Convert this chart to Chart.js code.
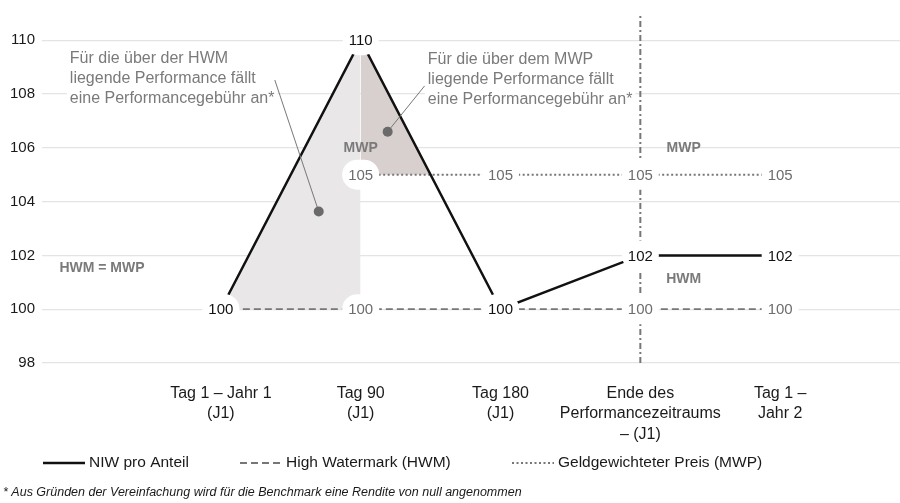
<!DOCTYPE html>
<html lang="de">
<head>
  <meta charset="UTF-8" />
  <title>NIW, HWM und MWP</title>
  <script src="https://cdn.jsdelivr.net/npm/chart.js"></script>
  <style>
    body, html { margin: 0; padding: 0; background: #fff; }
    canvas { display: block; }
  </style>
</head>
<body>
  <canvas id="chart" width="900" height="503"></canvas>

  <script>
    // --- data ---
    const xLabels = [
      ['Tag 1 – Jahr 1', '(J1)'],
      ['Tag 90', '(J1)'],
      ['Tag 180', '(J1)'],
      ['Ende des', 'Performancezeitraums', '– (J1)'],
      ['Tag 1 –', 'Jahr 2']
    ];
    const niw = [100, 110, 100, 102, 102];
    const hwm = [100, 100, 100, 100, 100];
    const mwp = [null, 105, 105, 105, 105];
    const yTicks = [98, 100, 102, 104, 106, 108, 110];
    const periodEnd = 3; // index of "Ende des Performancezeitraums"

    const Y_MIN = 98, Y_MAX = 110.9;
    const FONT = '"Liberation Sans", Arial, sans-serif';
    const GREY = '#777';
    const LABEL_GREY = '#6d6d6d';

    const toPts = arr => arr.map((v, i) => ({ x: i, y: v })).filter(p => p.y !== null);
    const niwPts = toPts(niw);

    Chart.defaults.font.family = FONT;
    Chart.defaults.color = '#1a1a1a';

    // value labels with white capsule behind them
    function drawValueLabel(ctx, px, py, text, color) {
      ctx.font = '15px ' + FONT;
      const w = ctx.measureText(text).width;
      ctx.fillStyle = '#fff';
      ctx.beginPath();
      ctx.roundRect(px - w / 2 - 6, py - 15, w + 12, 30, 15);
      ctx.fill();
      ctx.fillStyle = color;
      ctx.textAlign = 'center';
      ctx.textBaseline = 'middle';
      ctx.fillText(text, px, py + 1);
    }

    const overlay = {
      id: 'overlay',
      afterDatasetsDraw(chart) {
        const { ctx, scales: { x, y } } = chart;
        ctx.save();

        // labels: grey series first, NIW on top
        mwp.forEach((v, i) => { if (v !== null) drawValueLabel(ctx, x.getPixelForValue(i), y.getPixelForValue(v), String(v), LABEL_GREY); });
        hwm.forEach((v, i) => drawValueLabel(ctx, x.getPixelForValue(i), y.getPixelForValue(v), String(v), LABEL_GREY));
        niw.forEach((v, i) => drawValueLabel(ctx, x.getPixelForValue(i), y.getPixelForValue(v), String(v), '#111'));

        // text blocks
        const block = (lines, vx, vy) => {
          ctx.font = '16px ' + FONT;
          const px = x.getPixelForValue(vx), py = y.getPixelForValue(vy);
          const w = Math.max(...lines.map(l => ctx.measureText(l).width));
          ctx.fillStyle = '#fff';
          ctx.fillRect(px - 3, py - 11, w + 6, lines.length * 20 + 3);
          ctx.fillStyle = '#7a7a7a';
          ctx.textAlign = 'left';
          ctx.textBaseline = 'middle';
          lines.forEach((l, k) => ctx.fillText(l, px, py + k * 20));
        };
        block(['Für die über der HWM', 'liegende Performance fällt', 'eine Performancegebühr an*'], -1.08, 109.33);
        block(['Für die über dem MWP', 'liegende Performance fällt', 'eine Performancegebühr an*'], 1.48, 109.27);

        // leader lines with dots
        const leader = (x1, y1, x2, y2) => {
          const a = [x.getPixelForValue(x1), y.getPixelForValue(y1)];
          const b = [x.getPixelForValue(x2), y.getPixelForValue(y2)];
          ctx.strokeStyle = GREY;
          ctx.lineWidth = 1;
          ctx.beginPath(); ctx.moveTo(a[0], a[1]); ctx.lineTo(b[0], b[1]); ctx.stroke();
          ctx.fillStyle = '#6a6a6a';
          ctx.beginPath(); ctx.arc(b[0], b[1], 5, 0, Math.PI * 2); ctx.fill();
        };
        leader(0.386, 108.52, 0.7, 103.63);
        leader(1.457, 108.3, 1.193, 106.6);

        // bold tags
        const tag = (text, vx, vy) => {
          ctx.font = 'bold 14px ' + FONT;
          ctx.fillStyle = '#7a7a7a';
          ctx.textAlign = 'center';
          ctx.textBaseline = 'middle';
          ctx.fillText(text, x.getPixelForValue(vx), y.getPixelForValue(vy));
        };
        tag('MWP', 1, 105.98);
        tag('MWP', 3.31, 105.98);
        tag('HWM', 3.31, 101.13);
        tag('HWM = MWP', -0.85, 101.53);

        // legend
        const legendY = 463;
        const items = [[0, 43], [1, 240], [2, 512]];
        items.forEach(([di, lx]) => {
          const ds = chart.data.datasets[di];
          ctx.strokeStyle = ds.borderColor;
          ctx.lineWidth = ds.borderWidth;
          ctx.setLineDash(ds.borderDash || []);
          ctx.beginPath(); ctx.moveTo(lx, legendY); ctx.lineTo(lx + 42, legendY); ctx.stroke();
          ctx.setLineDash([]);
          ctx.font = '15.5px ' + FONT;
          ctx.fillStyle = '#1a1a1a';
          ctx.textAlign = 'left';
          ctx.textBaseline = 'middle';
          ctx.fillText(ds.label, lx + 46, legendY);
        });

        // footnote
        ctx.font = 'italic 12.5px ' + FONT;
        ctx.fillStyle = '#1a1a1a';
        ctx.textAlign = 'left';
        ctx.fillText('* Aus Gründen der Vereinfachung wird für die Benchmark eine Rendite von null angenommen', 3, 493);

        ctx.restore();
      }
    };

    new Chart(document.getElementById('chart'), {
      type: 'line',
      data: {
        datasets: [
          { label: 'NIW pro Anteil', data: niwPts, borderColor: '#111', borderWidth: 2.5, pointRadius: 0, fill: false, order: 0 },
          { label: 'High Watermark (HWM)', data: toPts(hwm), borderColor: GREY, borderWidth: 1.8, borderDash: [7, 4], pointRadius: 0, fill: false, order: 2 },
          { label: 'Geldgewichteter Preis (MWP)', data: toPts(mwp), borderColor: GREY, borderWidth: 2, borderDash: [2, 2.5], pointRadius: 0, fill: false, order: 2 },
          { label: 'Ende', data: [{ x: periodEnd, y: Y_MIN }, { x: periodEnd, y: Y_MAX }], borderColor: GREY, borderWidth: 2, borderDash: [6, 3, 2, 3], pointRadius: 0, fill: false, order: 1 },
          // shaded areas above HWM and above MWP
          { label: 'über HWM', data: niwPts.slice(0, 2), borderWidth: 0, pointRadius: 0,
            fill: { target: { value: hwm[0] }, above: '#e9e7e7', below: 'rgba(0,0,0,0)' }, order: 5 },
          { label: 'über MWP', data: niwPts.slice(1, 3), borderWidth: 0, pointRadius: 0,
            fill: { target: { value: mwp[1] }, above: '#d8d0ce', below: 'rgba(0,0,0,0)' }, order: 4 }
        ]
      },
      options: {
        responsive: false,
        animation: false,
        devicePixelRatio: 1,
        layout: { padding: { top: 12, right: 0, left: 0, bottom: 0 } },
        plugins: { legend: { display: false }, tooltip: { enabled: false } },
        scales: {
          x: {
            type: 'linear',
            min: -1.279,
            max: 4.857,
            grid: { display: false, drawTicks: false },
            border: { display: false },
            afterBuildTicks: s => { s.ticks = xLabels.map((_, i) => ({ value: i })); },
            afterFit: s => { s.height = 140; },
            ticks: {
              padding: 20,
              maxRotation: 0,
              autoSkip: false,
              color: '#1a1a1a',
              font: { size: 16, lineHeight: 1.28 },
              callback: v => xLabels[v]
            }
          },
          y: {
            min: Y_MIN,
            max: Y_MAX,
            grid: { color: '#e4e4e4', lineWidth: 1.2, drawTicks: false },
            border: { display: false },
            afterBuildTicks: s => { s.ticks = yTicks.map(v => ({ value: v })); },
            afterFit: s => { s.width = 42; },
            ticks: { padding: 7, color: '#1a1a1a', font: { size: 15 } }
          }
        }
      },
      plugins: [overlay]
    });
  </script>
</body>
</html>
